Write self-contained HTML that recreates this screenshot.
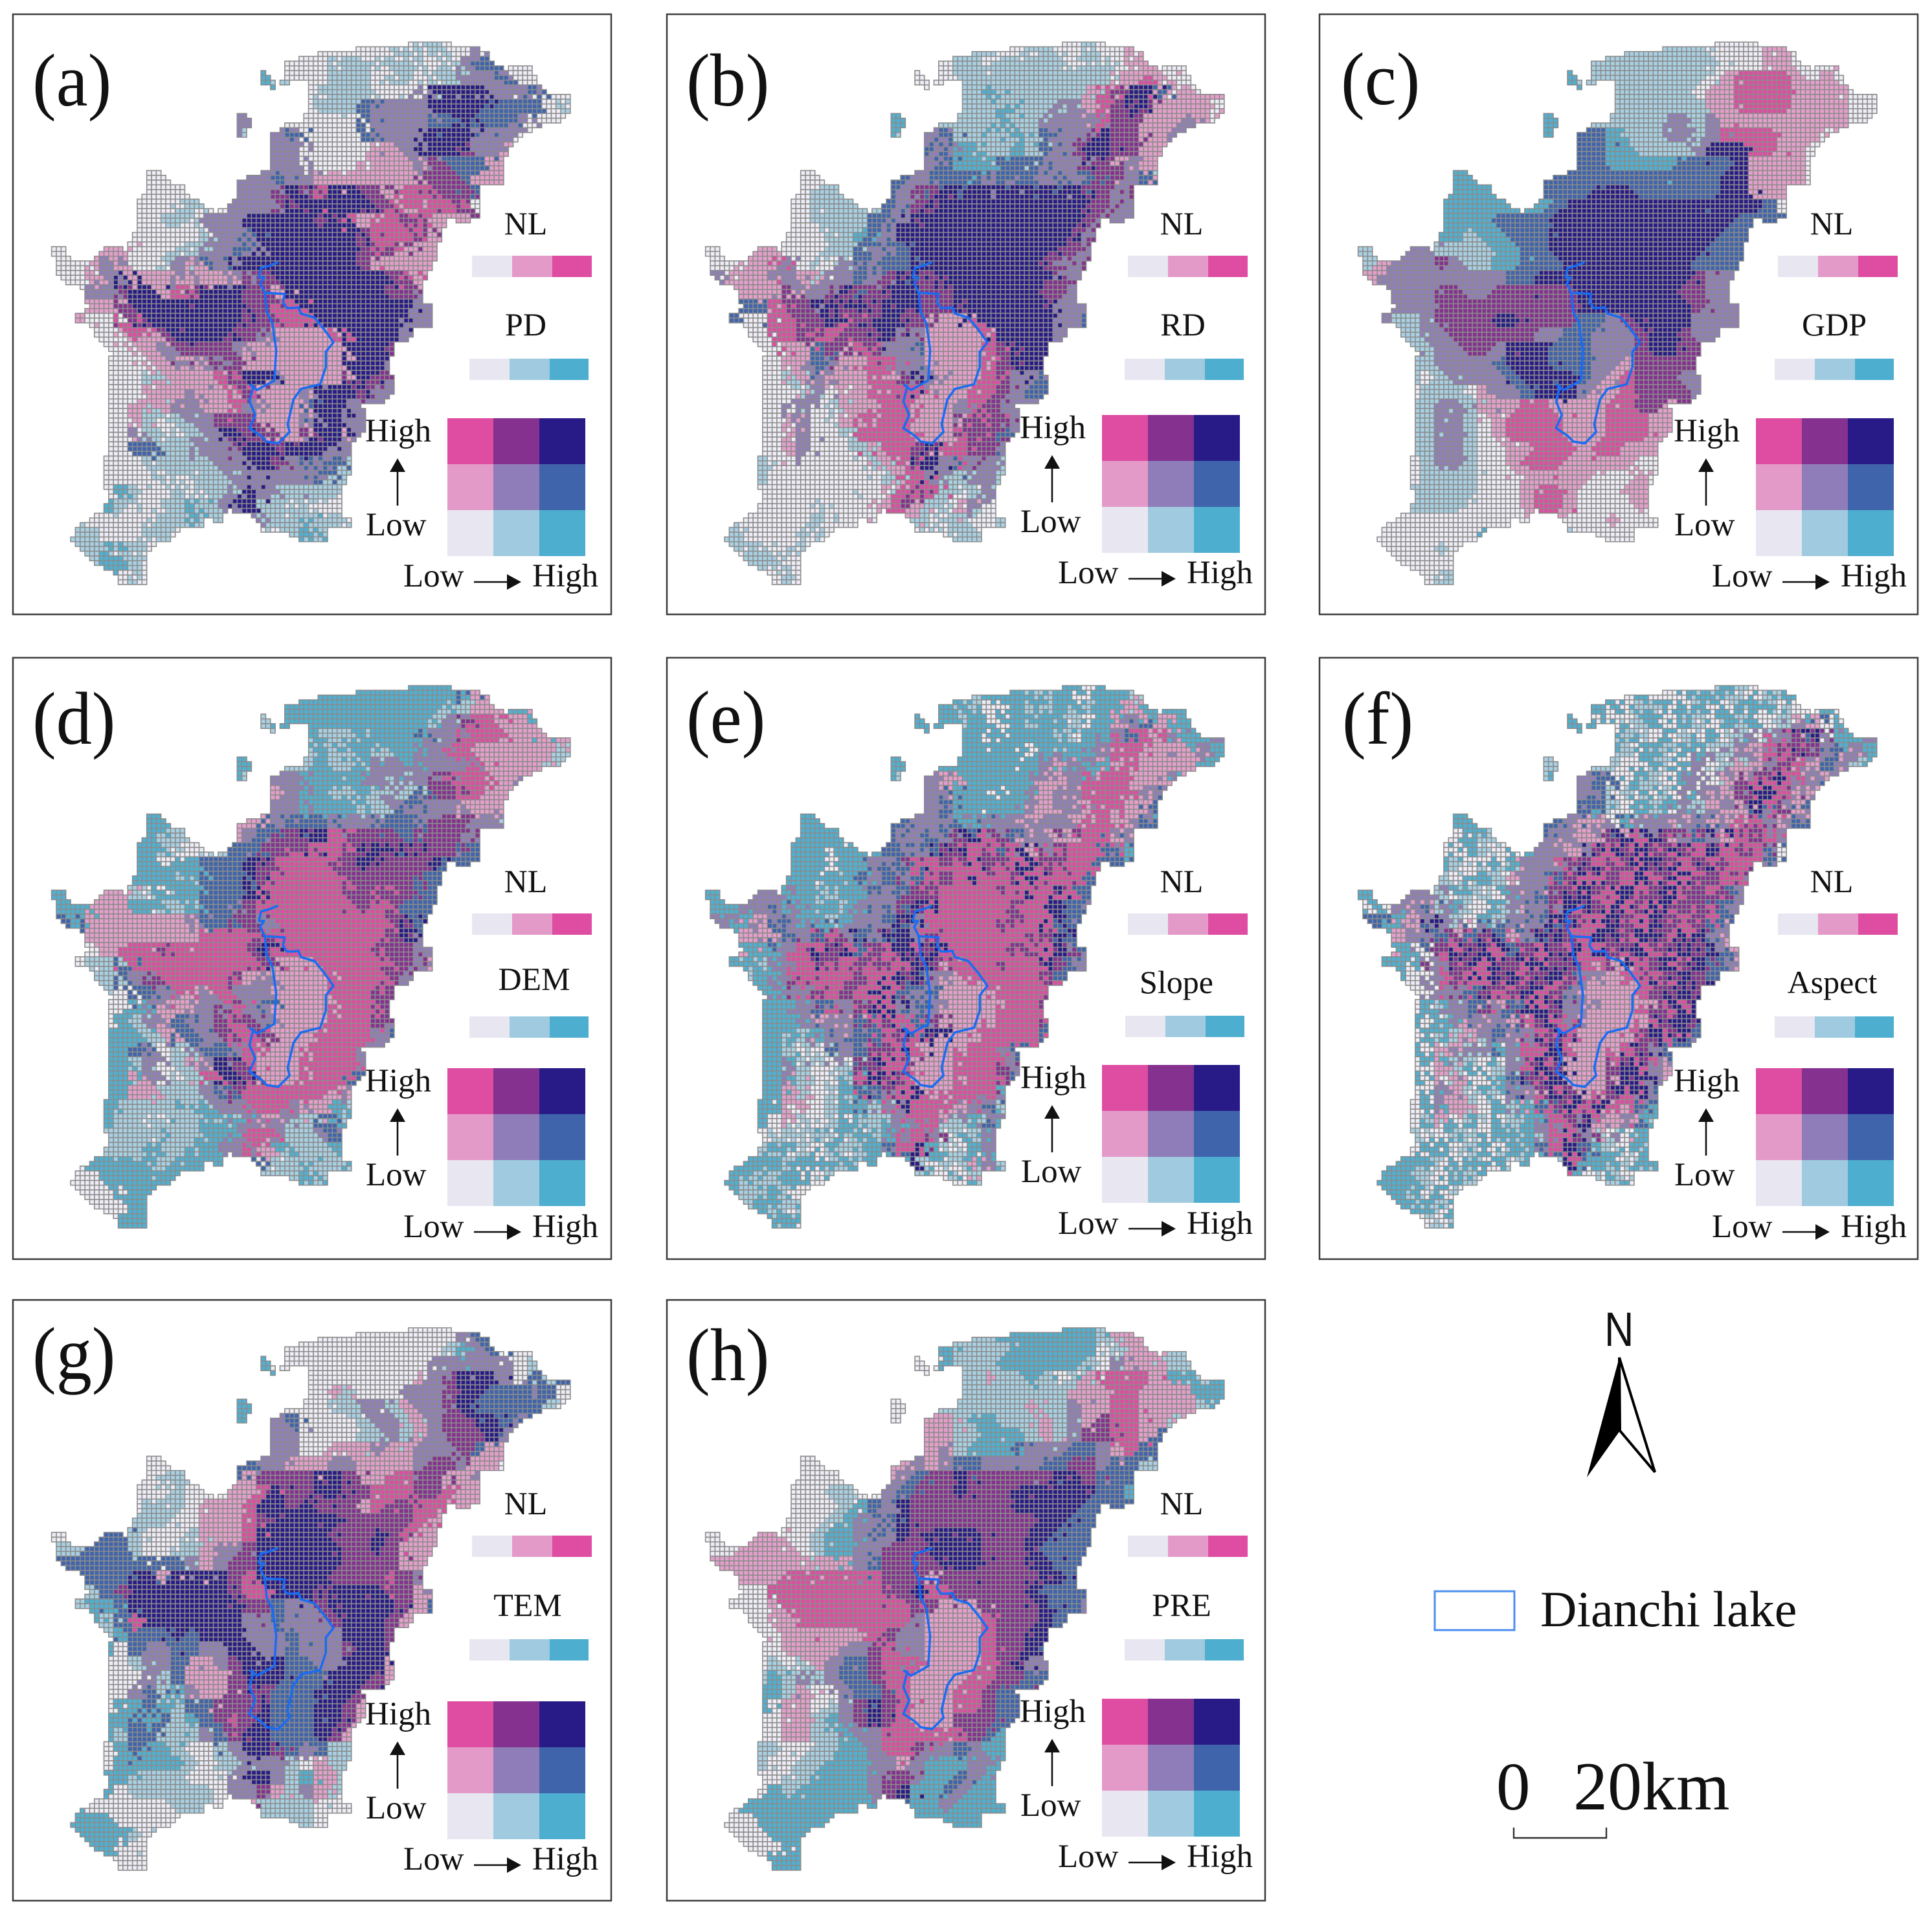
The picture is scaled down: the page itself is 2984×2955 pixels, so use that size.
<!DOCTYPE html>
<html lang="en">
<head>
<meta charset="utf-8">
<title>Bivariate maps of NL against eight factors</title>
<style>
html,body{margin:0;padding:0;background:#fff;}
svg{display:block;}
text{font-family:"Liberation Serif",serif;fill:#111;}
.lbl{font-size:51px;}
.ttl{font-size:50px;text-anchor:middle;}
.plabel{font-size:116px;}
.frame{fill:none;stroke:#3c3c3c;stroke-width:2.5;}
.c0{fill:#e8e6f1}.c1{fill:#9fcae0}.c2{fill:#4eaed0}.c3{fill:#e39ac8}.c4{fill:#8f7db9}.c5{fill:#3f64ac}.c6{fill:#de4da1}.c7{fill:#84318f}.c8{fill:#291b87}
.ln{stroke:#111;stroke-width:2.6;fill:none;}
</style>
</head>
<body>
<svg xmlns="http://www.w3.org/2000/svg" id="figure" width="2984" height="2955" viewBox="0 0 2984 2955">
<defs>
<path id="lake" fill="none" stroke="#1a6cf0" stroke-width="6" stroke-linejoin="round" transform="scale(.5893)" d="M695 650L670 660L650 665L645 690L658 690L648 705L660 730L712 733L708 755L718 770L735 770L748 768L755 785L790 795L815 825L840 860L820 885L820 925L805 970L755 982L735 1010L720 1075L725 1095L695 1125L665 1120L650 1105L620 1085L635 1050L620 1015L630 975L622 972L640 985L685 960L690 880L680 810L665 780L660 730"/>
</defs>
<rect width="2984" height="2955" fill="#fff"/>

<!-- panel a -->
<g transform="translate(20,22)">
<rect class="frame" width="924" height="927"/>
<g id="map-a"></g>
<use href="#lake"/>
<text class="plabel" transform="translate(30,141) scale(.95,1)">(a)</text>
<g><text class="ttl" x="792" y="340">NL</text><rect class="c0" x="709" y="373" width="62" height="33"/><rect class="c3" x="771" y="373" width="62" height="33"/><rect class="c6" x="833" y="373" width="61" height="33"/></g>
<g><text class="ttl" x="792" y="496">PD</text><rect class="c0" x="705" y="532" width="62" height="33"/><rect class="c1" x="767" y="532" width="62" height="33"/><rect class="c2" x="829" y="532" width="60" height="33"/></g>
<g>
<rect class="c6" x="671" y="624" width="71" height="71"/><rect class="c7" x="742" y="624" width="71" height="71"/><rect class="c8" x="813" y="624" width="71" height="71"/>
<rect class="c3" x="671" y="695" width="71" height="71"/><rect class="c4" x="742" y="695" width="71" height="71"/><rect class="c5" x="813" y="695" width="71" height="71"/>
<rect class="c0" x="671" y="766" width="71" height="71"/><rect class="c1" x="742" y="766" width="71" height="71"/><rect class="c2" x="813" y="766" width="71" height="71"/>
<text class="lbl" x="544" y="660">High</text><text class="lbl" x="545" y="805">Low</text><text class="lbl" x="603" y="884">Low</text><text class="lbl" x="802" y="884">High</text>
<path class="ln" d="M594 700V759M712 877H770"/><path d="M594 686L606 707H582ZM785 877L763 865V889Z" fill="#111"/>
</g>
</g>

<!-- panel b -->
<g transform="translate(1030,22)">
<rect class="frame" width="924" height="927"/>
<g id="map-b"></g>
<use href="#lake"/>
<text class="plabel" transform="translate(30,141) scale(.95,1)">(b)</text>
<g transform="translate(3,0)"><text class="ttl" x="792" y="340">NL</text><rect class="c0" x="709" y="373" width="62" height="33"/><rect class="c3" x="771" y="373" width="62" height="33"/><rect class="c6" x="833" y="373" width="61" height="33"/></g>
<g transform="translate(2,0)"><text class="ttl" x="795" y="496">RD</text><rect class="c0" x="705" y="532" width="62" height="33"/><rect class="c1" x="767" y="532" width="62" height="33"/><rect class="c2" x="829" y="532" width="60" height="33"/></g>
<g transform="translate(1,-5)">
<rect class="c6" x="671" y="624" width="71" height="71"/><rect class="c7" x="742" y="624" width="71" height="71"/><rect class="c8" x="813" y="624" width="71" height="71"/>
<rect class="c3" x="671" y="695" width="71" height="71"/><rect class="c4" x="742" y="695" width="71" height="71"/><rect class="c5" x="813" y="695" width="71" height="71"/>
<rect class="c0" x="671" y="766" width="71" height="71"/><rect class="c1" x="742" y="766" width="71" height="71"/><rect class="c2" x="813" y="766" width="71" height="71"/>
<text class="lbl" x="544" y="660">High</text><text class="lbl" x="545" y="805">Low</text><text class="lbl" x="603" y="884">Low</text><text class="lbl" x="802" y="884">High</text>
<path class="ln" d="M594 700V759M712 877H770"/><path d="M594 686L606 707H582ZM785 877L763 865V889Z" fill="#111"/>
</g>
</g>

<!-- panel c -->
<g transform="translate(2038,22)">
<rect class="frame" width="924" height="927"/>
<g id="map-c"></g>
<use href="#lake"/>
<text class="plabel" transform="translate(33,139) scale(.95,1)">(c)</text>
<g transform="translate(-1,0)"><text class="ttl" x="792" y="340">NL</text><rect class="c0" x="709" y="373" width="62" height="33"/><rect class="c3" x="771" y="373" width="62" height="33"/><rect class="c6" x="833" y="373" width="61" height="33"/></g>
<g transform="translate(-2,0)"><text class="ttl" x="797" y="496">GDP</text><rect class="c0" x="705" y="532" width="62" height="33"/><rect class="c1" x="767" y="532" width="62" height="33"/><rect class="c2" x="829" y="532" width="60" height="33"/></g>
<g transform="translate(3,0)">
<rect class="c6" x="671" y="624" width="71" height="71"/><rect class="c7" x="742" y="624" width="71" height="71"/><rect class="c8" x="813" y="624" width="71" height="71"/>
<rect class="c3" x="671" y="695" width="71" height="71"/><rect class="c4" x="742" y="695" width="71" height="71"/><rect class="c5" x="813" y="695" width="71" height="71"/>
<rect class="c0" x="671" y="766" width="71" height="71"/><rect class="c1" x="742" y="766" width="71" height="71"/><rect class="c2" x="813" y="766" width="71" height="71"/>
<text class="lbl" x="544" y="660">High</text><text class="lbl" x="545" y="805">Low</text><text class="lbl" x="603" y="884">Low</text><text class="lbl" x="802" y="884">High</text>
<path class="ln" d="M594 700V759M712 877H770"/><path d="M594 686L606 707H582ZM785 877L763 865V889Z" fill="#111"/>
</g>
</g>

<!-- panel d -->
<g transform="translate(20,1016)">
<rect class="frame" width="924" height="929"/>
<g id="map-d"></g>
<use href="#lake"/>
<text class="plabel" transform="translate(30,133) scale(.95,1)">(d)</text>
<g transform="translate(0,22)"><text class="ttl" x="792" y="340">NL</text><rect class="c0" x="709" y="373" width="62" height="33"/><rect class="c3" x="771" y="373" width="62" height="33"/><rect class="c6" x="833" y="373" width="61" height="33"/></g>
<g transform="translate(0,22)"><text class="ttl" x="805" y="491">DEM</text><rect class="c0" x="705" y="532" width="62" height="33"/><rect class="c1" x="767" y="532" width="62" height="33"/><rect class="c2" x="829" y="532" width="60" height="33"/></g>
<g transform="translate(0,10)">
<rect class="c6" x="671" y="624" width="71" height="71"/><rect class="c7" x="742" y="624" width="71" height="71"/><rect class="c8" x="813" y="624" width="71" height="71"/>
<rect class="c3" x="671" y="695" width="71" height="71"/><rect class="c4" x="742" y="695" width="71" height="71"/><rect class="c5" x="813" y="695" width="71" height="71"/>
<rect class="c0" x="671" y="766" width="71" height="71"/><rect class="c1" x="742" y="766" width="71" height="71"/><rect class="c2" x="813" y="766" width="71" height="71"/>
<text class="lbl" x="544" y="660">High</text><text class="lbl" x="545" y="805">Low</text><text class="lbl" x="603" y="885">Low</text><text class="lbl" x="802" y="885">High</text>
<path class="ln" d="M594 700V759M712 877H770"/><path d="M594 686L606 707H582ZM785 877L763 865V889Z" fill="#111"/>
</g>
</g>

<!-- panel e -->
<g transform="translate(1030,1016)">
<rect class="frame" width="924" height="929"/>
<g id="map-e"></g>
<use href="#lake"/>
<text class="plabel" transform="translate(30,131) scale(.95,1)">(e)</text>
<g transform="translate(3,22)"><text class="ttl" x="792" y="340">NL</text><rect class="c0" x="709" y="373" width="62" height="33"/><rect class="c3" x="771" y="373" width="62" height="33"/><rect class="c6" x="833" y="373" width="61" height="33"/></g>
<g transform="translate(3,21)"><text class="ttl" x="784" y="497">Slope</text><rect class="c0" x="705" y="532" width="62" height="33"/><rect class="c1" x="767" y="532" width="62" height="33"/><rect class="c2" x="829" y="532" width="60" height="33"/></g>
<g transform="translate(1,5)">
<rect class="c6" x="671" y="624" width="71" height="71"/><rect class="c7" x="742" y="624" width="71" height="71"/><rect class="c8" x="813" y="624" width="71" height="71"/>
<rect class="c3" x="671" y="695" width="71" height="71"/><rect class="c4" x="742" y="695" width="71" height="71"/><rect class="c5" x="813" y="695" width="71" height="71"/>
<rect class="c0" x="671" y="766" width="71" height="71"/><rect class="c1" x="742" y="766" width="71" height="71"/><rect class="c2" x="813" y="766" width="71" height="71"/>
<text class="lbl" x="545" y="660">High</text><text class="lbl" x="546" y="805">Low</text><text class="lbl" x="603" y="885">Low</text><text class="lbl" x="802" y="885">High</text>
<path class="ln" d="M594 700V759M712 877H770"/><path d="M594 686L606 707H582ZM785 877L763 865V889Z" fill="#111"/>
</g>
</g>

<!-- panel f -->
<g transform="translate(2038,1016)">
<rect class="frame" width="924" height="929"/>
<g id="map-f"></g>
<use href="#lake"/>
<text class="plabel" transform="translate(35,133) scale(.95,1)">(f)</text>
<g transform="translate(-1,22)"><text class="ttl" x="792" y="340">NL</text><rect class="c0" x="709" y="373" width="62" height="33"/><rect class="c3" x="771" y="373" width="62" height="33"/><rect class="c6" x="833" y="373" width="61" height="33"/></g>
<g transform="translate(-2,22)"><text class="ttl" x="794" y="496">Aspect</text><rect class="c0" x="705" y="532" width="62" height="33"/><rect class="c1" x="767" y="532" width="62" height="33"/><rect class="c2" x="829" y="532" width="60" height="33"/></g>
<g transform="translate(3,10)">
<rect class="c6" x="671" y="624" width="71" height="71"/><rect class="c7" x="742" y="624" width="71" height="71"/><rect class="c8" x="813" y="624" width="71" height="71"/>
<rect class="c3" x="671" y="695" width="71" height="71"/><rect class="c4" x="742" y="695" width="71" height="71"/><rect class="c5" x="813" y="695" width="71" height="71"/>
<rect class="c0" x="671" y="766" width="71" height="71"/><rect class="c1" x="742" y="766" width="71" height="71"/><rect class="c2" x="813" y="766" width="71" height="71"/>
<text class="lbl" x="544" y="660">High</text><text class="lbl" x="545" y="805">Low</text><text class="lbl" x="603" y="885">Low</text><text class="lbl" x="802" y="885">High</text>
<path class="ln" d="M594 700V759M712 877H770"/><path d="M594 686L606 707H582ZM785 877L763 865V889Z" fill="#111"/>
</g>
</g>

<!-- panel g -->
<g transform="translate(20,2008)">
<rect class="frame" width="924" height="928"/>
<g id="map-g"></g>
<use href="#lake"/>
<text class="plabel" transform="translate(30,122) scale(.95,1)">(g)</text>
<g transform="translate(0,-9)"><text class="ttl" x="792" y="340">NL</text><rect class="c0" x="709" y="373" width="62" height="33"/><rect class="c3" x="771" y="373" width="62" height="33"/><rect class="c6" x="833" y="373" width="61" height="33"/></g>
<g transform="translate(0,-8)"><text class="ttl" x="795" y="496">TEM</text><rect class="c0" x="705" y="532" width="62" height="33"/><rect class="c1" x="767" y="532" width="62" height="33"/><rect class="c2" x="829" y="532" width="60" height="33"/></g>
<g transform="translate(0,-4)">
<rect class="c6" x="671" y="624" width="71" height="71"/><rect class="c7" x="742" y="624" width="71" height="71"/><rect class="c8" x="813" y="624" width="71" height="71"/>
<rect class="c3" x="671" y="695" width="71" height="71"/><rect class="c4" x="742" y="695" width="71" height="71"/><rect class="c5" x="813" y="695" width="71" height="71"/>
<rect class="c0" x="671" y="766" width="71" height="71"/><rect class="c1" x="742" y="766" width="71" height="71"/><rect class="c2" x="813" y="766" width="71" height="71"/>
<text class="lbl" x="544" y="660">High</text><text class="lbl" x="545" y="805">Low</text><text class="lbl" x="603" y="884">Low</text><text class="lbl" x="802" y="884">High</text>
<path class="ln" d="M594 700V759M712 877H770"/><path d="M594 686L606 707H582ZM785 877L763 865V889Z" fill="#111"/>
</g>
</g>

<!-- panel h -->
<g transform="translate(1030,2008)">
<rect class="frame" width="924" height="928"/>
<g id="map-h"></g>
<use href="#lake"/>
<text class="plabel" transform="translate(30,124) scale(.95,1)">(h)</text>
<g transform="translate(3,-9)"><text class="ttl" x="792" y="340">NL</text><rect class="c0" x="709" y="373" width="62" height="33"/><rect class="c3" x="771" y="373" width="62" height="33"/><rect class="c6" x="833" y="373" width="61" height="33"/></g>
<g transform="translate(2,-8)"><text class="ttl" x="793" y="496">PRE</text><rect class="c0" x="705" y="532" width="62" height="33"/><rect class="c1" x="767" y="532" width="62" height="33"/><rect class="c2" x="829" y="532" width="60" height="33"/></g>
<g transform="translate(1,-8)">
<rect class="c6" x="671" y="624" width="71" height="71"/><rect class="c7" x="742" y="624" width="71" height="71"/><rect class="c8" x="813" y="624" width="71" height="71"/>
<rect class="c3" x="671" y="695" width="71" height="71"/><rect class="c4" x="742" y="695" width="71" height="71"/><rect class="c5" x="813" y="695" width="71" height="71"/>
<rect class="c0" x="671" y="766" width="71" height="71"/><rect class="c1" x="742" y="766" width="71" height="71"/><rect class="c2" x="813" y="766" width="71" height="71"/>
<text class="lbl" x="544" y="660">High</text><text class="lbl" x="545" y="805">Low</text><text class="lbl" x="603" y="884">Low</text><text class="lbl" x="802" y="884">High</text>
<path class="ln" d="M594 700V759M712 877H770"/><path d="M594 686L606 707H582ZM785 877L763 865V889Z" fill="#111"/>
</g>
</g>

<!-- north arrow, lake key and scale bar -->
<g>
<text transform="translate(2478,2079) scale(.85,1)" font-size="74" style="font-family:'Liberation Sans',sans-serif">N</text>
<path d="M2501 2097L2451 2282L2502 2210Z" fill="#000"/>
<path d="M2501 2097L2556 2274L2502 2210Z" fill="#fff" stroke="#000" stroke-width="4"/>
</g>
<g>
<rect x="2216" y="2458" width="123" height="60" fill="#fff" stroke="#4b8df0" stroke-width="3"/>
<text x="2379" y="2512" font-size="78">Dianchi lake</text>
</g>
<g>
<text x="2311" y="2795" font-size="105">0</text>
<text x="2430" y="2795" font-size="106">20km</text>
<path d="M2338 2823V2839H2481V2823" fill="none" stroke="#333" stroke-width="2.4"/>
</g>
</svg>

<script>
// Class codes: 0-2 NL low, 3-5 NL mid, 6-8 NL high (factor rises within each tier); "." = no reading.
const classColors = ["#eeecf5","#a8d0e3","#4fb0d1","#e49fcb","#907eba","#3f64ac","#de4da1","#84318f","#291b87"];

const mapPd = [
".....................0010110045",
"................0001110110014550",
"..............21000111011011444500",
".................01111000488884445",
".................01115444488885555011",
".............4....000544445585554000",
".............1.450000544488884440",
"...............44000003348887443",
"...............44000033334755533",
".......0.....4454433333337775333",
"......000....4478768877366777",
"......00110.444788888876366670",
"......01104448888878636676333",
"......0000144588888887666733",
"0...30001144548888888767333",
"00343001435488888888873333",
"00348333433347788888888763",
"..447883678887738888888774",
"..337888888887766888888884",
"..0067888888877666888888444",
"...03637888877433336888844",
"....03347777433333338887",
"....00334347733333338884",
"....00133336788433337874",
"....00333433673334888744",
"....031344336433358844",
"....031014477733348844",
"....041011488773378834",
"....05511444788788844",
"...000111114488745451",
"....00010111444444511",
"....21001011484111110",
"....10011214881101000",
"...000111211441112110",
".11000110.....011211",
"..12110",
"...2210",
"....010",
"....4"
];
const mapRd = [
".....................0110010033",
"................0110111110110330",
"..............00011111111111336300",
".................11211111136788533",
".................11121114436787333301",
".............2....112114444677333430",
".............1.451121215447877334",
"...............54221121547887733",
"...............45222555444773433",
".......0.....5455554545454577451",
"......011....4778888888888774",
"......01111.547888888888888744",
"......01111548888888888888744",
"......0011254888888888888744",
"0...30001154558888888888774",
"00336401045455888888888744",
"43334433445478778888888874",
"..333744787788877888888774",
"..556778878788777888888844",
"..0066778678877333688888445",
"...06676677784433336888844",
"....03357367445333367888",
"....03454336644333367888",
"....01343336378433367445",
"....00140336666333667455",
"....044013336633346744",
"....034003666633377674",
"....034001666633367754",
"....03400013667866774",
"...100000001368845441",
"....00000000136411441",
"....00000010367610141",
"....00010003673103401",
"...000010000331011001",
".10000100.....010110",
"..11010",
"...1100",
"....010",
"....3"
];
const mapGdp = [
".....................1110000330",
"................1111111110003300",
"..............21111111110366663030",
".................11111103366663333",
".................11111113366663333000",
".............2....111441433333333300",
".............2.552111441466663330",
"...............55221111488866330",
"...............55222225555833330",
".......2.....5555555555558833330",
"......222....5558885555558833",
"......22222.258888888888888850",
"......22255558888888888888555",
"......2122555888888888888555",
"1...41111225588888888888555",
"13444741122555888888888555",
"34444444445588888888888744",
"..444774477777788888887744",
"..444777777777788888888744",
"..1147777887777554788884444",
"...14477777744554447887444",
"....14477488855544478877",
"....14444588855544377777",
"....01444458888543677744",
"....11103445888433677774",
"....144133366333366773",
"....144103666633366633",
"....144103666633366633",
"....14410033666366333",
"...014410036663333300",
"....11110003333300030",
"....11110003663000330",
"....11100003663000030",
"...000000000430003000",
".00000002.....100000",
"..00010",
"...0000",
"....011",
"....4"
];
const mapDem = [
".....................2222222533",
"................2222222222211332",
"..............12222222222214766332",
".................21112222544666333",
".................12122122446633333311",
".............2....211244244446333311",
".............1.442222441447666334",
"...............34221121415776633",
"...............44222211454443334",
".......2.....3545554445554777441",
"......211....4577886777757774",
"......21001.557767667887877755",
"......20225558766667787777855",
"......2212555876666677777555",
"2...31022255586666667767755",
"22333221125547666666676755",
"52333333345577466666666785",
"..333333336666766666666784",
"..036667666667866666667774",
"..1156666666667333666667743",
"...15476666673433336666744",
"....05546346444333366677",
"....02433447645333366677",
"....21435447674333366674",
"....22135547667333666645",
"....254014554633366664",
"....214013487633366664",
"....234011688733366655",
"....23311145766666634",
"...211112124466643321",
"....11011121243411521",
"....11121122466411451",
"....11211224463211122",
"...222112222250112112",
".00222222.....111211",
"..00222",
"...0022",
"....222",
"....5"
];
const mapSlope = [
".....................2122022213",
"................2120221221223322",
"..............22222022221022453322",
".................22022221224666342",
".................22220242243663333422",
".............2....222224342363333322",
".............1.432222243446663342",
"...............45220223343666345",
"...............45222243344363352",
".......2.....5445454434433663452",
"......222....4547867543476654",
"......22022.545876676867666652",
"......20225457667687686766555",
"......2212254567666676867655",
"2...42212245477666666766854",
"22445422124457866666766855",
"42345445245458466666766854",
"..335476785788676666667685",
"..224668767678786666766874",
"..1246676676678736666667544",
"...24766676687543336666654",
"....24476768654533336667",
"....22454476845433336667",
"....22434357665733366665",
"....21245456786833666665",
"....210144576633366645",
"....241001786733366674",
"....231012687633366675",
"....23301254686666642",
"...203001221466634451",
"....01010211246412142",
"....10121022466701241",
"....21021122568210242",
"...212202122261021321",
".21122012.....210212",
"..12102",
"...2112",
"....220",
"....3"
];
const mapAspect = [
".....................0212102120",
"................2021202102120102",
"..............20201202102120143502",
".................21020120144678742",
".................10212041434667453422",
".............1....021024013476345412",
".............2.450210240437686434",
"...............45102102434786734",
"...............52021241434354353",
".......2.....5434534434543676453",
"......021....4337868767686764",
"......20102.434867867867866750",
"......10213446786768768676645",
"......0210445768768678676745",
"2...41210243478678678677654",
"02435410214546876876876754",
"52348435453458768768767653",
"..345767865787668768768743",
"..207687687687866786787854",
"..2046786786787633678687543",
"...04676876786543336787854",
"....04457678674333367878",
"....21453456874433337687",
"....02344537867333368785",
"....21314546786333678654",
"....034102468733368745",
"....231201476833378643",
"....043021587833378843",
"....24310243678678645",
"...023310212567863652",
"....10210212467434321",
"....02102121468710212",
"....20120212568521021",
"...210212012166202102",
".22102120.....201202",
"..21201",
"...2120",
"....012",
"....4"
];
const mapTem = [
".....................0000000450",
"................0000000000012450",
"..............20000000000044444401",
".................00000000347888405",
".................00310004447885554500",
".............2....011441344785555510",
".............2.450000144134778854",
"...............44000011413477784",
"...............44003334334447533",
".......0.....5443334433334774330",
"......011....3777788733667733",
"......00100.336877887766677633",
"......11103336887877736776633",
"......1100333678888877777633",
"0...51000133368888877787633",
"11555100113447888888778733",
"55555555543477888888777733",
"..555883888876888887777674",
"..157888888876688878888773",
"..2258888888877544788888735",
"...15688888884454447888733",
"....25558588844454448887",
"....05445544884454447887",
"....01445334788855448883",
"....00415333788855588873",
"....045124337775558887",
"....225215577785558873",
"....252512576785558873",
"....15511145788555873",
"...025221001488754511",
"....22222101144410311",
"....21111000488412331",
"....01111110447314310",
"...000001110031111000",
".22200000.....011100",
"..22210",
"...2000",
"....000",
"....3"
];
const mapPre = [
".....................2222221330",
"................2111122222201331",
"..............00211122222210433311",
".................11311210136666322",
".................11111111333663333222",
".............0....111131143366333312",
".............0.331221113143766331",
"...............33112221314776635",
"...............34122254445543655",
".......0.....3434554444557745511",
"......000....4577877777788755",
"......00110.457778777888888552",
"......00012548777777788888555",
"......0012445877777777788555",
"0...30012245487888877788555",
"00333301224477788887778555",
"33333333334577778887778855",
"..333666666677737777777885",
"..006666666677866777778555",
"..0036666666667733377778554",
"...03366666666433336777855",
"....03333336744333367788",
"....03333447644333367785",
"....10134557666333367844",
"....21414557663333667755",
"....213004557633366755",
"....033014787633366755",
"....033124787633377755",
"....03311244666666752",
"...110011224667445422",
"....00112224434222442",
"....01122224774225422",
"....21222224782254222",
"...222222222552242222",
".00222222.....222222",
"..00222",
"...0022",
"....222",
"....5"
];
const panelKeys = ["a","b","c","d","e","f","g","h"];
const panelMaps = [mapPd,mapRd,mapGdp,mapDem,mapSlope,mapAspect,mapTem,mapPre];
// How strongly neighbouring readings mingle at the fine-cell level (lower = more mottled).
const panelMottle = [16,14,60,16,6,6,30,30];

// Study-area outline (panel-relative, before the 0.5893 trace scale).
const landMain = [[1080,72],[1145,72],[1145,85],[1200,85],[1250,97],[1250,120],[1285,145],[1355,132],[1365,160],[1380,180],[1395,205],[1465,218],[1465,240],[1450,270],[1430,290],[1390,290],[1370,300],[1320,325],[1310,345],[1290,370],[1290,395],[1280,445],[1230,450],[1225,475],[1225,530],[1195,530],[1190,555],[1165,545],[1150,520],[1140,540],[1120,590],[1110,640],[1085,680],[1075,720],[1075,760],[1100,762],[1100,820],[1055,825],[1055,850],[1000,860],[985,930],[1005,960],[1005,985],[970,1015],[915,1015],[920,1050],[925,1095],[890,1130],[885,1200],[860,1250],[860,1320],[885,1322],[885,1345],[830,1350],[825,1380],[760,1390],[725,1360],[650,1355],[640,1320],[605,1305],[560,1300],[545,1330],[500,1320],[500,1345],[440,1345],[415,1380],[385,1380],[360,1395],[355,1420],[345,1450],[345,1490],[295,1490],[270,1500],[270,1470],[240,1450],[210,1435],[180,1400],[150,1375],[160,1360],[185,1335],[240,1300],[250,1270],[235,1185],[250,1150],[248,1075],[250,1010],[245,950],[260,880],[212,845],[205,808],[165,808],[165,790],[200,770],[185,740],[180,710],[130,700],[115,680],[110,640],[100,635],[100,605],[125,605],[150,640],[200,650],[240,610],[270,605],[300,620],[320,570],[320,490],[345,470],[355,410],[380,410],[410,440],[450,450],[460,480],[490,490],[525,520],[550,510],[585,485],[585,435],[630,425],[670,410],[670,345],[680,315],[715,290],[755,285],[775,240],[775,180],[765,170],[715,180],[715,120],[760,115],[825,95],[880,95],[920,85],[1010,85]];
const landIslandA = [[645,145],[665,145],[675,170],[692,170],[692,192],[670,192],[645,180]];
const landIslandB = [[703,168],[718,168],[718,182],[703,182]];
const landIslandC = [[585,265],[610,265],[632,290],[615,300],[610,325],[585,325]];
const landParts = [landMain,landIslandA,landIslandB,landIslandC];

const SVGNS = "http://www.w3.org/2000/svg";
const traceScale = 0.5893;
const fineSize = 7.35;
function xOf(fineCol){ return 67 + fineCol * fineSize; }
function yOf(fineRow){ return 43 + fineRow * fineSize; }
function inside(poly, px, py){
  let hit = false;
  for (let i = 0, j = poly.length - 1; i < poly.length; j = i++) {
    const xi = poly[i][0] * traceScale, yi = poly[i][1] * traceScale;
    const xj = poly[j][0] * traceScale, yj = poly[j][1] * traceScale;
    if ((yi > py) !== (yj > py) && px < (xj - xi) * (py - yi) / (yj - yi) + xi) hit = !hit;
  }
  return hit;
}
function onLand(px, py){
  return landParts.some(function(part){ return inside(part, px, py); });
}
const fineCells = [];
for (let fy = 0; fy < 122; fy++) {
  for (let fx = -2; fx < 112; fx++) {
    if (onLand(xOf(fx) + fineSize / 2, yOf(fy) + fineSize / 2)) fineCells.push([fx, fy]);
  }
}
function readCode(rows, col, row){
  const text = rows[row];
  if (!text || col < 0) return ".";
  return text.charAt(col) || ".";
}
function nearestCode(rows, col, row){
  for (let r = 0; r <= 5; r++) {
    for (let dy = -r; dy <= r; dy++) {
      for (let dx = -r; dx <= r; dx++) {
        const code = readCode(rows, col + dx, row + dy);
        if (code !== ".") return code;
      }
    }
  }
  return "0";
}
function classFor(rows, fx, fy, mottle){
  const col = Math.floor(fx / 3), row = Math.floor(fy / 3);
  const i = ((fx % 3) + 3) % 3, j = fy % 3;
  let code = nearestCode(rows, col, row);
  if (i !== 1 && j !== 1) {
    const a = readCode(rows, col + (i === 0 ? -1 : 1), row);
    const b = readCode(rows, col, row + (j === 0 ? -1 : 1));
    if (a === b && a !== ".") code = a;
  }
  const k = (((fx * 31 + fy * 17 + (fx ^ fy) * 5) % mottle) + mottle) % mottle;
  let alt = ".";
  if (k === 0) alt = readCode(rows, col - 1, row);
  if (k === 1) alt = readCode(rows, col + 1, row);
  if (k === 2) alt = readCode(rows, col, row - 1);
  if (k === 3) alt = readCode(rows, col, row + 1);
  return alt !== "." ? alt : code;
}

panelKeys.forEach(function(key, p){
  const group = document.getElementById("map-" + key);
  const classPaths = ["","","","","","","","",""];
  let mesh = "";
  fineCells.forEach(function(cell){
    const code = classFor(panelMaps[p], cell[0], cell[1], panelMottle[p]);
    const square = "M" + xOf(cell[0]).toFixed(2) + " " + yOf(cell[1]).toFixed(2) + "h7.35v7.35h-7.35z";
    classPaths[+code] += square;
    mesh += square;
  });
  classPaths.forEach(function(d, c){
    if (!d) return;
    const layer = document.createElementNS(SVGNS, "path");
    
    
    layer.setAttribute("d", d);
    layer.setAttribute("fill", classColors[c]);
    group.appendChild(layer);
  });
  const lines = document.createElementNS(SVGNS, "path");
  
  
  lines.setAttribute("d", mesh);
  lines.setAttribute("fill", "none");
  lines.setAttribute("stroke", "#8b8b8b");
  lines.setAttribute("stroke-width", "1.6");
  group.appendChild(lines);
});
</script>
</body>
</html>
